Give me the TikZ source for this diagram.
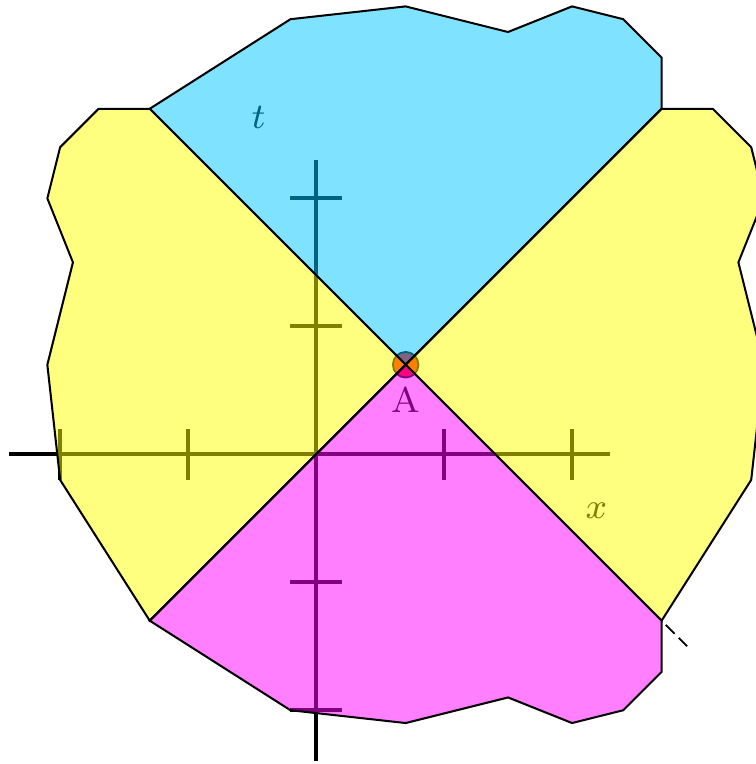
\documentclass[tikz,border=0pt]{standalone}
\usepackage{xcolor}
\definecolor{conefuture}{RGB}{0,200,255}
\definecolor{coneside}{RGB}{255,255,0}
\definecolor{conepast}{RGB}{255,0,255}

\begin{document}
\begin{tikzpicture}[
    axis/.style={draw=black, line width=0.9pt},
    region/.style={draw=black, line width=0.45pt, fill opacity=0.5},
    event/.style={circle, draw=black, fill=red, line width=0.4pt, inner sep=0pt, minimum size=2mm},
    lbl/.style={font=\footnotesize, inner sep=1pt},
  ]
  \useasboundingbox (-2.47,-2.42) rectangle (3.43,3.55);

  % axes with ticks
  \coordinate (xl) at (-2.4,0);
  \coordinate (xr) at (2.3,0);
  \coordinate (yb) at (0,-2.4);
  \coordinate (yt) at (0,2.3);
  \draw[axis] (xl) -- (xr);
  \draw[axis] (yb) -- (yt);
  \foreach \t in {-2,-1,1,2} {
    \draw[axis] (\t,-0.2) -- (\t,0.2);
    \draw[axis] (-0.2,\t) -- (0.2,\t);
  }
  \node[lbl] (tlabel) at (-0.45,2.63) {$t$};
  \node[lbl] (xlabel) at (2.19,-0.44) {$x$};

  % the event
  \coordinate (A) at (0.7,0.7);
  \node[event] (eventA) at (A) {};
  \node[lbl] (Alabel) at (0.7,0.43) {A};

  % corners of the cone
  \coordinate (NW) at (-1.3,2.7);
  \coordinate (NE) at (2.7,2.7);
  \coordinate (SW) at (-1.3,-1.3);
  \coordinate (SE) at (2.7,-1.3);

  % regions around A
  \filldraw[region, fill=conefuture] (A) -- (NW) -- (-0.2,3.4) -- (0.7,3.5) -- (1.5,3.3)
    -- (2.0,3.5) -- (2.4,3.4) -- (2.7,3.1) -- (NE) -- cycle;
  \filldraw[region, fill=coneside] (A) -- (NW) -- (-1.7,2.7) -- (-2.0,2.4) -- (-2.1,2.0)
    -- (-1.9,1.5) -- (-2.1,0.7) -- (-2.0,-0.2) -- (SW) -- cycle;
  \filldraw[region, fill=coneside] (A) -- (NE) -- (3.1,2.7) -- (3.4,2.4) -- (3.5,2.0)
    -- (3.3,1.5) -- (3.5,0.7) -- (3.4,-0.2) -- (SE) -- cycle;
  \filldraw[region, fill=conepast] (A) -- (SW) -- (-0.2,-2.0) -- (0.7,-2.1) -- (1.5,-1.9)
    -- (2.0,-2.1) -- (2.4,-2.0) -- (2.7,-1.7) -- (SE) -- cycle;

  \draw[line width=0.4pt, dash pattern=on 2.8pt off 1.3pt, dash phase=2.8pt] (SE) -- ++(0.2,-0.2);
\end{tikzpicture}
\end{document}
